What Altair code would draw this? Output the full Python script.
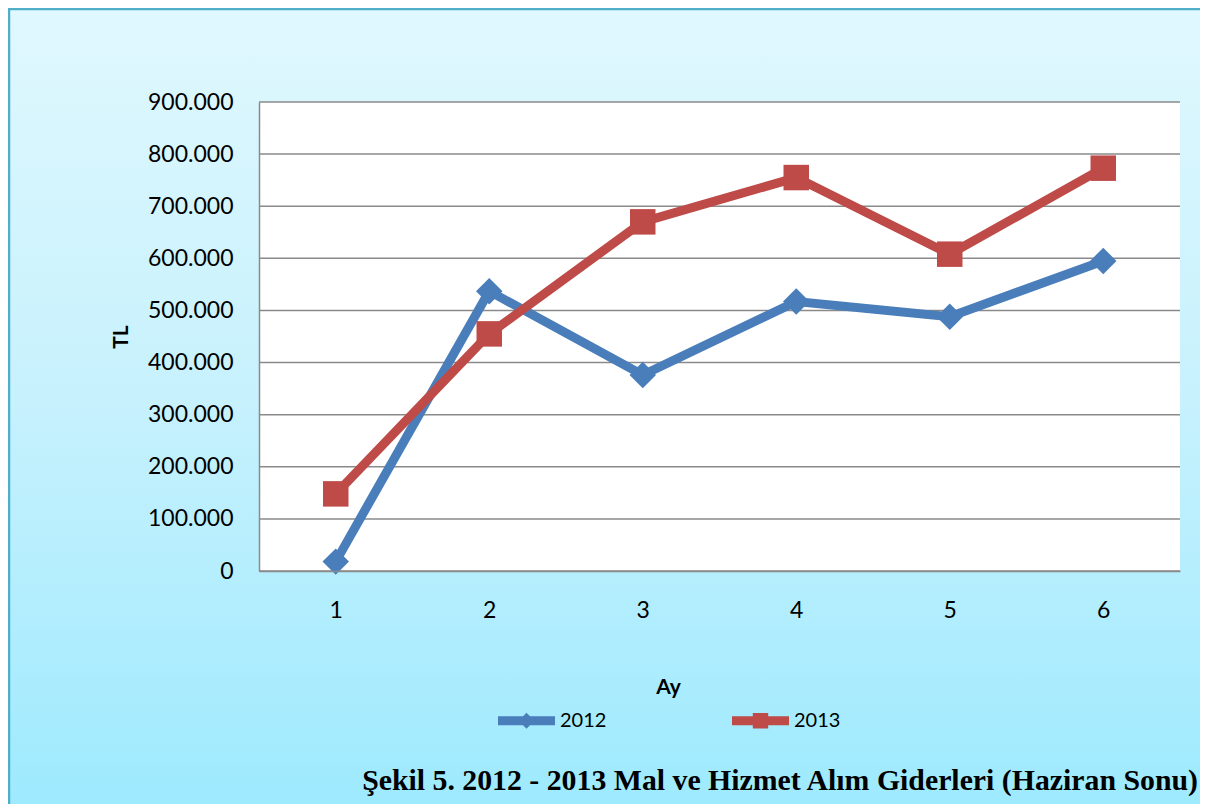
import altair as alt
import pandas as pd

MONTHS = ["1", "2", "3", "4", "5", "6"]
V2012 = [18000, 537000, 376000, 517000, 488000, 595000]
V2013 = [148000, 455000, 670000, 755000, 608000, 773000]
SERIES = ["2012", "2013"]
Y_TICKS = [0, 100000, 200000, 300000, 400000, 500000, 600000, 700000, 800000, 900000]
CAPTION = "Şekil 5. 2012 - 2013 Mal ve Hizmet Alım Giderleri (Haziran Sonu)"
Y_TITLE = "TL"
X_TITLE = "Ay"

BLUE = "#4A7EBB"
RED = "#BE4B48"
GRID = "#8A8A8A"

W, H = 921, 469
PL, PT, PR, PB = 251, 94, 20, 233

rows = []
for m, a, b in zip(MONTHS, V2012, V2013):
    rows.append({"ay": m, "seri": SERIES[0], "tl": a})
    rows.append({"ay": m, "seri": SERIES[1], "tl": b})
df = pd.DataFrame(rows)
one = pd.DataFrame({"k": [0]})

x_enc = alt.X("ay:O", sort=MONTHS,
              scale=alt.Scale(type="point", padding=0.5),
              axis=alt.Axis(title=X_TITLE, labelAngle=0, ticks=False, tickSize=0,
                            domain=True, domainColor=GRID, domainWidth=1.5,
                            grid=False, zindex=1,
                            labelFont="Lato", labelFontSize=23, labelColor="#000000",
                            labelBaseline="alphabetic", labelPadding=46,
                            titleFont="Lato", titleFontSize=21, titleFontWeight="bold",
                            titleColor="#000000", titleX=409, titleY=122,
                            titleBaseline="alphabetic"))
y_enc = alt.Y("tl:Q", scale=alt.Scale(domain=[0, 900000], nice=False),
              axis=alt.Axis(title=Y_TITLE, values=Y_TICKS,
                            labelExpr="replace(format(datum.value, ','), ',', '.')",
                            ticks=False, tickSize=0, grid=False, zindex=1,
                            domain=True, domainColor=GRID, domainWidth=1.5,
                            labelFont="Lato", labelFontSize=23, labelColor="#000000",
                            labelPadding=26,
                            titleFont="Lato", titleFontSize=21, titleFontWeight="bold",
                            titleColor="#000000", titleX=-128, titleY=H / 2))
color_scale = alt.Scale(domain=SERIES, range=[BLUE, RED])

LEG_DIAMOND = "M-1,-0.16L1,-0.16L1,0.16L-1,0.16Z M-0.28,0L0,-0.28L0.28,0L0,0.28Z"
LEG_SQUARE = "M-1,-0.16L1,-0.16L1,0.16L-1,0.16Z M-0.27,-0.27L0.27,-0.27L0.27,0.27L-0.27,0.27Z"

legend_def = alt.Legend(title=None, orient="none", direction="horizontal",
                        legendX=239, legendY=590, columnPadding=125,
                        symbolSize=3249, symbolStrokeWidth=0,
                        labelFont="Lato", labelFontSize=20,
                        labelColor="#000000", labelOffset=5, padding=0)

legend_layer = alt.Chart(df).transform_filter("false").mark_point(
    filled=True, opacity=1).encode(
    x=x_enc, y=y_enc,
    color=alt.Color("seri:N", scale=color_scale, legend=legend_def),
    shape=alt.Shape("seri:N", scale=alt.Scale(domain=SERIES,
                                              range=[LEG_DIAMOND, LEG_SQUARE]),
                    legend=legend_def))

bg = alt.Chart(one).mark_rect(
    clip=False,
    color=alt.Gradient(gradient="linear",
                       stops=[alt.GradientStop(color="#E0F8FE", offset=0),
                              alt.GradientStop(color="#C6F1FD", offset=0.5),
                              alt.GradientStop(color="#9EEAFE", offset=1)],
                       x1=0, x2=0, y1=0, y2=1)
).encode(x=alt.value(-PL), x2=alt.value(W + PR), y=alt.value(-PT), y2=alt.value(H + PB))

frame_left = alt.Chart(one).mark_rule(color="#4FAFC9", strokeWidth=2.5, clip=False).encode(
    x=alt.value(-PL + 1), y=alt.value(-PT), y2=alt.value(H + PB))
frame_top = alt.Chart(one).mark_rule(color="#4FAFC9", strokeWidth=2.5, clip=False).encode(
    x=alt.value(-PL), x2=alt.value(W + PR), y=alt.value(-PT + 1))

plot_bg = alt.Chart(one).mark_rect(color="#FFFFFF").encode(
    x=alt.value(0), x2=alt.value(W), y=alt.value(0), y2=alt.value(H))

grid = alt.Chart(pd.DataFrame({"tl": Y_TICKS})).mark_rule(
    color=GRID, strokeWidth=1.5).encode(y=alt.Y("tl:Q"))

lines = alt.Chart(df).mark_line(strokeWidth=9, strokeJoin="miter").encode(
    x="ay:O", y="tl:Q",
    color=alt.Color("seri:N", scale=color_scale))

pts12 = alt.Chart(df).transform_filter(alt.datum.seri == SERIES[0]).mark_point(
    shape="diamond", filled=True, size=700, opacity=1).encode(
    x="ay:O", y="tl:Q", color=alt.Color("seri:N", scale=color_scale))
pts13 = alt.Chart(df).transform_filter(alt.datum.seri == SERIES[1]).mark_point(
    shape="square", filled=True, size=650, opacity=1).encode(
    x="ay:O", y="tl:Q", color=alt.Color("seri:N", scale=color_scale))

caption = alt.Chart(pd.DataFrame({"t": [CAPTION]})).mark_text(
    font="Liberation Serif", fontSize=29.8, fontWeight="bold", color="#000000",
    align="right", baseline="alphabetic", clip=False).encode(
    text="t:N", x=alt.value(939), y=alt.value(688))

chart = alt.layer(legend_layer, bg, frame_left, frame_top, plot_bg, grid, lines,
                  pts12, pts13, caption).properties(
    width=W, height=H,
    autosize=alt.AutoSizeParams(type="none"),
    padding={"left": PL, "top": PT, "right": PR, "bottom": PB},
).configure_view(stroke=None).configure(background="#FFFFFF")

chart.save("out.html", embed_options={"renderer": "svg", "actions": False})
